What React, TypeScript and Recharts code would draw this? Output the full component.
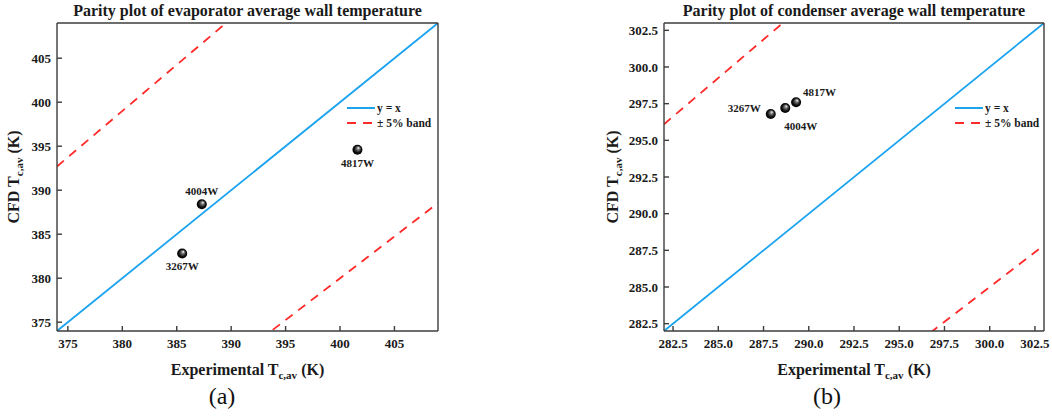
import React from 'react';
import { ComposedChart, Line, Scatter, XAxis, YAxis, Legend, Label } from 'recharts';

// heater powers, shared by both panels
const powers = ['3267W', '4004W', '4817W'];

// (a) evaporator
const evapExperimental = [385.5, 387.3, 401.6];
const evapCfd = [382.8, 388.4, 394.6];
const evapRange = [374, 409];
const evapTicks = [375, 380, 385, 390, 395, 400, 405];

// (b) condenser
const condExperimental = [287.9, 288.7, 289.3];
const condCfd = [296.8, 297.2, 297.6];
const condRange = [282, 303];
const condTicks = [282.5, 285, 287.5, 290, 292.5, 295, 297.5, 300, 302.5];

const bandFraction = 0.05;

const FONT = '"Liberation Serif", "Times New Roman", serif';
const BLUE = '#1ba3ef';
const RED = '#ff2a2a';
const AXIS = '#3c3c3c';

type Placement = { dx: number; dy: number; anchor: 'start' | 'middle' | 'end' };

const evapLabels: Record<string, Placement> = {
  '3267W': { dx: 0, dy: 16, anchor: 'middle' },
  '4004W': { dx: 0, dy: -9, anchor: 'middle' },
  '4817W': { dx: 0, dy: 17, anchor: 'middle' },
};

const condLabels: Record<string, Placement> = {
  '3267W': { dx: -10, dy: -2, anchor: 'end' },
  '4004W': { dx: -1, dy: 22, anchor: 'start' },
  '4817W': { dx: 7, dy: -6, anchor: 'start' },
};

const tickStyle = { fontFamily: FONT, fontWeight: 700, fontSize: 13, fill: '#1a1a1a' };

// axis sizes reserved inside the chart margins
const X_AXIS_H = 30;
const Y_AXIS_W = 40;

function Subscripted({ x, y, pre, rotate }: { x: number; y: number; pre: string; rotate?: boolean }) {
  return (
    <text
      x={x}
      y={y}
      textAnchor="middle"
      transform={rotate ? `rotate(-90, ${x}, ${y})` : undefined}
      style={{ fontFamily: FONT, fontWeight: 700, fontSize: 16, fill: '#1a1a1a' }}
    >
      <tspan>{pre} T</tspan>
      <tspan fontSize={11} dy={4}>c,av</tspan>
      <tspan dy={-4}> (K)</tspan>
    </text>
  );
}

interface PanelProps {
  id: string;
  title: string;
  tag: string;
  tagLeft: number;
  left: number;
  width: number;
  plot: { top: number; right: number; bottom: number; left: number };
  experimental: number[];
  cfd: number[];
  range: number[];
  ticks: number[];
  decimals: number;
  labels: Record<string, Placement>;
  yLabelGap: number;
  legendPos: { left: number; top: number };
}

function ParityPanel(p: PanelProps) {
  const height = 416;
  const plotW = p.width - p.plot.left - p.plot.right;
  const plotH = height - p.plot.top - p.plot.bottom;
  const margin = {
    top: p.plot.top - 1,
    right: p.plot.right - 1,
    bottom: p.plot.bottom - X_AXIS_H,
    left: p.plot.left - Y_AXIS_W,
  };
  const points = powers.map((name, i) => ({ name, x: p.experimental[i], y: p.cfd[i] }));
  const parity = p.range.map((v) => ({ x: v, y: v }));
  const upper = p.range.map((v) => ({ x: v, y: v * (1 + bandFraction) }));
  const lower = p.range.map((v) => ({ x: v, y: v * (1 - bandFraction) }));

  const renderPoint = (props: any) => {
    const { cx, cy, payload } = props;
    const pl = p.labels[payload.name];
    return (
      <g>
        <circle cx={cx} cy={cy} r={5} fill={`url(#sphere-${p.id})`} />
        <text
          x={cx + pl.dx}
          y={cy + pl.dy}
          textAnchor={pl.anchor}
          style={{ fontFamily: FONT, fontWeight: 700, fontSize: 11, fill: '#1a1a1a' }}
        >
          {payload.name}
        </text>
      </g>
    );
  };

  const renderLegend = (props: any) => {
    const entries = (props.payload || []).filter((e: any) => e.type !== 'none');
    return (
      <div style={{ fontFamily: FONT, fontWeight: 700, fontSize: 11.5, color: '#1a1a1a' }}>
        {entries.map((e: any) => (
          <div key={e.value} style={{ display: 'flex', alignItems: 'center', height: 15.5 }}>
            <svg width={30} height={4}>
              <line
                x1={0}
                y1={2}
                x2={28}
                y2={2}
                stroke={e.color}
                strokeWidth={2}
                strokeDasharray={e.payload?.strokeDasharray}
              />
            </svg>
            <span>{e.value}</span>
          </div>
        ))}
      </div>
    );
  };

  const axisLine = { stroke: AXIS, strokeWidth: 1.4 };

  return (
    <div style={{ position: 'absolute', left: p.left, top: 0, width: p.width, height }}>
      <div
        style={{
          position: 'absolute',
          left: p.plot.left + plotW / 2,
          top: 2,
          transform: 'translateX(-50%)',
          whiteSpace: 'nowrap',
          fontFamily: FONT,
          fontWeight: 700,
          fontSize: 16,
          lineHeight: '18px',
          color: '#1a1a1a',
        }}
      >
        {p.title}
      </div>
      <ComposedChart width={p.width} height={height} margin={margin}>
        <defs>
          <radialGradient id={`sphere-${p.id}`} cx="0.5" cy="0.5" r="0.5" fx="0.62" fy="0.3">
            <stop offset="0%" stopColor="#ffffff" />
            <stop offset="30%" stopColor="#777777" />
            <stop offset="70%" stopColor="#111111" />
            <stop offset="100%" stopColor="#000000" />
          </radialGradient>
        </defs>
        {/* ticks point into the plot, so the size is negative */}
        <XAxis
          type="number"
          dataKey="x"
          domain={p.range}
          ticks={p.ticks}
          allowDataOverflow
          height={X_AXIS_H}
          tickSize={-5}
          tickMargin={13}
          tick={tickStyle}
          tickLine={axisLine}
          axisLine={axisLine}
          tickFormatter={(v: number) => v.toFixed(p.decimals)}
        >
          <Label
            content={() => (
              <Subscripted x={p.plot.left + plotW / 2} y={375} pre="Experimental" />
            )}
          />
        </XAxis>
        <YAxis
          type="number"
          dataKey="y"
          domain={p.range}
          ticks={p.ticks}
          allowDataOverflow
          width={Y_AXIS_W}
          tickSize={-5}
          tickMargin={11}
          tick={tickStyle}
          tickLine={axisLine}
          axisLine={axisLine}
          tickFormatter={(v: number) => v.toFixed(p.decimals)}
        >
          <Label
            content={() => (
              <Subscripted
                x={p.plot.left - p.yLabelGap}
                y={p.plot.top + plotH / 2}
                pre="CFD"
                rotate
              />
            )}
          />
        </YAxis>
        <XAxis
          xAxisId="top"
          orientation="top"
          type="number"
          domain={p.range}
          height={1}
          tick={false}
          tickLine={false}
          axisLine={axisLine}
        />
        <YAxis
          yAxisId="right"
          orientation="right"
          type="number"
          domain={p.range}
          width={1}
          tick={false}
          tickLine={false}
          axisLine={axisLine}
        />
        <Legend
          layout="vertical"
          align="center"
          verticalAlign="middle"
          wrapperStyle={{ left: p.legendPos.left, top: p.legendPos.top, width: 'auto' }}
          content={renderLegend}
        />
        <Line
          data={parity}
          dataKey="y"
          name="y = x"
          stroke={BLUE}
          strokeWidth={1.8}
          dot={false}
          activeDot={false}
          isAnimationActive={false}
        />
        <Line
          data={upper}
          dataKey="y"
          name="± 5% band"
          stroke={RED}
          strokeWidth={1.8}
          strokeDasharray="9 7"
          dot={false}
          activeDot={false}
          isAnimationActive={false}
        />
        <Line
          data={lower}
          dataKey="y"
          name="lower band"
          legendType="none"
          stroke={RED}
          strokeWidth={1.8}
          strokeDasharray="9 7"
          dot={false}
          activeDot={false}
          isAnimationActive={false}
        />
        <Scatter
          data={points}
          dataKey="y"
          legendType="none"
          shape={renderPoint}
          isAnimationActive={false}
        />
      </ComposedChart>
      <div
        style={{
          position: 'absolute',
          left: p.tagLeft,
          top: 384,
          transform: 'translateX(-50%)',
          fontFamily: FONT,
          fontSize: 24,
          lineHeight: '24px',
          color: '#111',
        }}
      >
        {p.tag}
      </div>
    </div>
  );
}

export default function App() {
  return (
    <div style={{ position: 'absolute', left: 0, top: 0, width: 1052, height: 416, background: '#fff' }}>
      <ParityPanel
        id="a"
        title="Parity plot of evaporator average wall temperature"
        tag="(a)"
        tagLeft={222}
        left={0}
        width={460}
        plot={{ top: 23, right: 22, bottom: 85, left: 57 }}
        experimental={evapExperimental}
        cfd={evapCfd}
        range={evapRange}
        ticks={evapTicks}
        decimals={0}
        labels={evapLabels}
        yLabelGap={38}
        legendPos={{ left: 347, top: 100 }}
      />
      <ParityPanel
        id="b"
        title="Parity plot of condenser average wall temperature"
        tag="(b)"
        tagLeft={267}
        left={560}
        width={492}
        plot={{ top: 23, right: 8, bottom: 85, left: 104 }}
        experimental={condExperimental}
        cfd={condCfd}
        range={condRange}
        ticks={condTicks}
        decimals={1}
        labels={condLabels}
        yLabelGap={46}
        legendPos={{ left: 395, top: 100 }}
      />
    </div>
  );
}
